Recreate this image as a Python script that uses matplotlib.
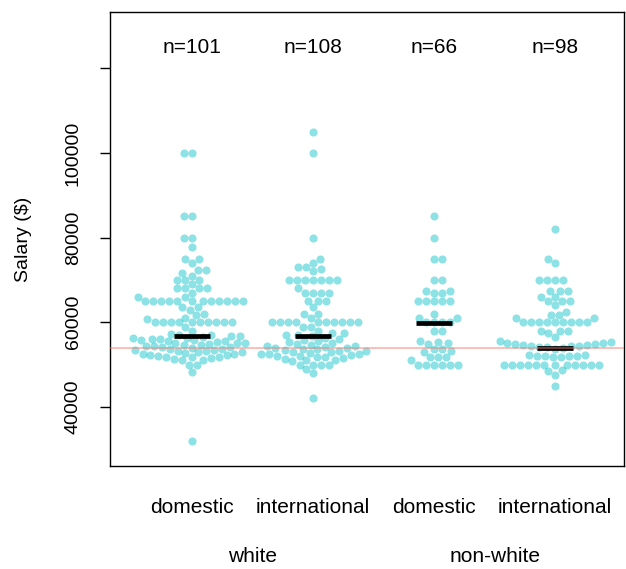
import numpy as np
import matplotlib
matplotlib.use('Agg')
import matplotlib.pyplot as plt

plt.rcParams['font.family'] = ['Liberation Sans', 'DejaVu Sans']

# salarios (un array por grupo)
dom_white = ([100000]*2 + [85000]*2 + [80000]*2 + [77800] + [75000]*2 + [74000]
             + [72300]*2 + [71700, 71000] + [70000]*3 + [69000] + [68000]*4 + [67000]
             + [66000]*2 + [65000]*12 + [63700, 63600, 63000, 62000, 61700, 61000, 60700]
             + [60000]*10 + [59000, 58000]
             + [57300, 57100, 57000, 56800, 56700, 56500, 56400, 56200, 56100, 56000,
                55800, 55700, 55600, 55500, 55400, 55200, 55100, 55000, 54900, 54700,
                54600, 54500, 54300, 54200, 54100, 53900, 53800, 53700, 53500, 53400,
                53300, 53100, 53000, 52900, 52700, 52600, 52500, 52300, 52200, 52100,
                51900, 51800, 51700, 51500, 51400, 51200]
             + [51000, 50000, 50000, 48300, 32000])
int_white = ([105000, 100000, 80000, 75000, 74000, 73000, 73000, 72500, 72000]
             + [70000]*7 + [68000] + [67000]*4 + [65000]*3 + [63500, 62000, 62000, 61000]
             + [60000]*10 + [59000, 59000, 58000, 57500, 57500]
             + [57100, 56900, 56700, 56400, 56000, 55700, 55500, 55300, 55000, 54800,
                54700, 54500, 54300, 54200, 54000, 53900, 53700, 53600, 53400, 53300,
                53200, 53000, 52900, 52800, 52600, 52500, 52400, 52300, 52100, 52000,
                51900, 51700, 51600, 51400, 51200, 51000, 50800]
             + [50000]*4 + [49000, 48000, 42000])
dom_nonwhite = ([85000, 80000] + [75000]*2 + [70000]*2 + [67500]*2 + [67000]*2
                + [65000]*5 + [62000] + [61000]*2 + [60000]*4 + [58000]*2
                + [55500, 55400, 55000, 54900, 53700, 53700, 53000, 53100]
                + [51700]*3 + [51000] + [50000]*6)
int_nonwhite = ([82000, 75000, 74000] + [70000]*4 + [67500]*3 + [66000]*2 + [65000]*3
                + [64000, 62500, 61700, 61700, 61000, 61000] + [60000]*9
                + [58000]*3 + [57500, 56500]
                + [55500, 55300, 55200, 55000, 54900, 54800, 54700, 54600, 54500, 54400,
                   54300, 54200, 54100, 54000, 53800]
                + [52300, 52200, 52100, 52100, 52000, 52000, 51900, 51800]
                + [50000]*12 + [48700, 48400, 47600, 45000])

groups = [dom_white, int_white, dom_nonwhite, int_nonwhite]
n_labels = ['n=101', 'n=108', 'n=66', 'n=98']
sub_labels = ['domestic', 'international', 'domestic', 'international']
race_labels = ['white', 'non-white']
medians = [56800, 56800, 59800, 54000]
ref_line = 54000

col = '#00BFC4'
fig = plt.figure(figsize=(6.26, 5.69), dpi=100)
ax = fig.add_axes([110/626, 1 - 466/569, 514/626, 454/569])
ax.set_xlim(0.32, 4.57)
ax.set_ylim(26050, 133300)


def swarm(ypx, d):
    # swarm sencillo: cada punto va lo mas cerca posible del centro
    order = np.argsort(ypx, kind='stable')
    xs = np.zeros(len(ypx))
    placed = []
    for n, i in enumerate(order):
        yi = ypx[i]
        near = [(xs[j], ypx[j]) for j in placed if abs(ypx[j] - yi) < d]
        cands = [0.0]
        for xj, yj in near:
            off = np.sqrt(d**2 - (yj - yi)**2)
            cands += [xj - off, xj + off]
        side = 1 if n % 2 else -1
        cands.sort(key=lambda c: (round(abs(c), 6), -np.sign(c) * side))
        for c in cands:
            if all((c - xj)**2 + (yj - yi)**2 >= d**2 - 1e-6 for xj, yj in near):
                xs[i] = c
                break
        placed.append(i)
    return xs


d = 8.0
for k, vals in enumerate(groups):
    pos = k + 1
    vals = np.array(vals, dtype=float)
    disp = ax.transData.transform(np.column_stack([np.full(len(vals), pos), vals]))
    off = swarm(disp[:, 1], d)
    disp[:, 0] += off
    pts = ax.transData.inverted().transform(disp)
    ax.scatter(pts[:, 0], pts[:, 1], s=34, color=col, alpha=0.45, linewidths=0, zorder=2)
    ax.plot([pos - 0.15, pos + 0.15], [medians[k], medians[k]], color='black',
            lw=3.4, solid_capstyle='butt', zorder=3)
    ax.text(pos, 125000, n_labels[k], ha='center', va='center', fontsize=15)
    ax.text(pos, -0.0925, sub_labels[k], ha='center', va='center', fontsize=15,
            transform=ax.get_xaxis_transform())

ax.axhline(ref_line, color='#F8766D', alpha=0.55, lw=1.2, zorder=4)

for i, lab in enumerate(race_labels):
    ax.text(1.5 + 2*i, -0.2, lab, ha='center', va='center', fontsize=15,
            transform=ax.get_xaxis_transform())

ax.set_xticks([])
ax.set_yticks([40000, 60000, 80000, 100000, 120000])
ax.set_yticklabels(['40000', '60000', '80000', '100000', ''], rotation=90, va='center')
ax.tick_params(axis='y', direction='out', length=7.2, width=1, pad=13, labelsize=14)
for sp in ax.spines.values():
    sp.set_linewidth(1)
fig.text(24/626, 1 - 239/569, 'Salary ($)', rotation=90, ha='center', va='center', fontsize=14)

plt.savefig('out.png', dpi=100)
